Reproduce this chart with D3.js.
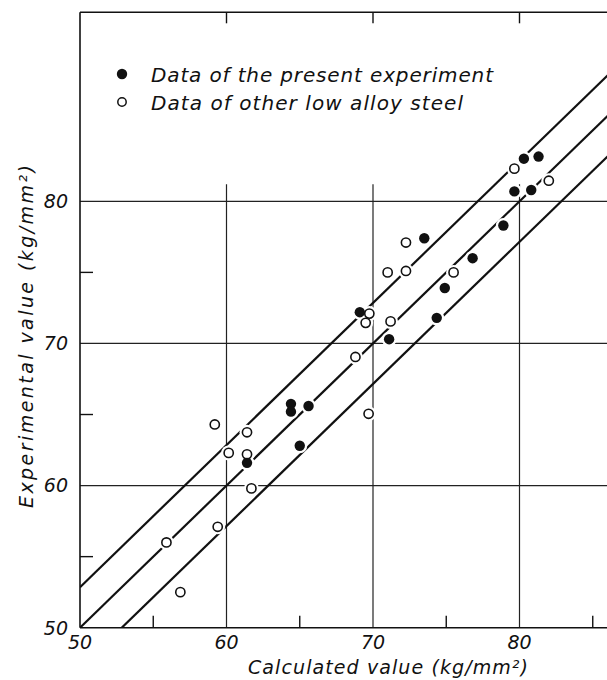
<!DOCTYPE html>
<html>
<head>
<meta charset="utf-8">
<script src="https://cdn.jsdelivr.net/npm/d3@7"></script>
<style>
  body { margin: 0; background: #fff; }
  svg text { font-family: "DejaVu Sans", sans-serif; font-style: italic; fill: #111; }
</style>
</head>
<body>
<svg id="chart" width="607" height="680"></svg>
<script>
// data (kg/mm2)
let presentCalc = [61.4, 65.0, 64.4, 64.4, 65.6, 71.1, 69.1, 74.35, 74.9, 76.8, 73.5, 78.9, 79.65, 80.8, 80.3, 81.3];
let presentExp  = [61.6, 62.8, 65.75, 65.2, 65.6, 70.3, 72.2, 71.8, 73.9, 76.0, 77.4, 78.3, 80.7, 80.8, 83.0, 83.15];

let otherCalc = [56.85, 55.9, 59.4, 61.7, 60.15, 61.4, 59.2, 61.4, 69.7, 68.8, 71.2, 69.75, 69.5, 75.5, 71.0, 72.25, 72.25, 82.0, 79.65];
let otherExp  = [52.5, 56.0, 57.1, 59.8, 62.3, 63.75, 64.3, 62.2, 65.05, 69.05, 71.55, 72.1, 71.45, 75.0, 75.0, 75.1, 77.1, 81.45, 82.3];

// scatter band: y = x + offset
let bandOffsets = [-2.85, 0, 2.85];

let gridValues = [60, 70, 80];
let xMinorTicks = [55, 65, 75, 85];
let yMinorTicks = [55, 65, 75];
let xTickLabels = [50, 60, 70, 80];
let yTickLabels = [50, 60, 70, 80];

let legendLabels = ["Data of the present experiment", "Data of other low alloy steel"];

let svg = d3.select("#chart");

let x = d3.scaleLinear().domain([50, 90]).range([80, 666]);
let y = d3.scaleLinear().domain([50, 93.3]).range([627.7, 12.3]);

svg.append("clipPath").attr("id", "plotClip")
  .append("rect")
  .attr("x", x(50)).attr("y", y(93.3))
  .attr("width", x(90) - x(50)).attr("height", y(50) - y(93.3));

// grid lines
svg.selectAll("line.hgrid").data(gridValues).enter().append("line")
  .attr("class", "hgrid")
  .attr("x1", x(50)).attr("x2", x(90))
  .attr("y1", d => y(d)).attr("y2", d => y(d))
  .attr("stroke", "#222").attr("stroke-width", 1.2);

svg.selectAll("line.vgrid").data(gridValues).enter().append("line")
  .attr("class", "vgrid")
  .attr("x1", d => x(d)).attr("x2", d => x(d))
  .attr("y1", y(50)).attr("y2", y(81.2))
  .attr("stroke", "#222").attr("stroke-width", 1.2);

// inner ticks
svg.selectAll("line.bt").data(xMinorTicks).enter().append("line")
  .attr("x1", d => x(d)).attr("x2", d => x(d))
  .attr("y1", y(50)).attr("y2", y(50) - 12)
  .attr("stroke", "#111").attr("stroke-width", 1.4);

svg.selectAll("line.tt").data(gridValues).enter().append("line")
  .attr("x1", d => x(d)).attr("x2", d => x(d))
  .attr("y1", y(93.3)).attr("y2", y(93.3) + 11)
  .attr("stroke", "#111").attr("stroke-width", 1.4);

svg.selectAll("line.lt").data(yMinorTicks).enter().append("line")
  .attr("x1", x(50)).attr("x2", x(50) + 13)
  .attr("y1", d => y(d)).attr("y2", d => y(d))
  .attr("stroke", "#111").attr("stroke-width", 1.4);

// frame (left, bottom, top; right side is off the page)
let frame = [[50, 93.3, 50, 50], [50, 50, 90, 50], [50, 93.3, 90, 93.3]];
svg.selectAll("line.frame").data(frame).enter().append("line")
  .attr("x1", d => x(d[0])).attr("y1", d => y(d[1]))
  .attr("x2", d => x(d[2])).attr("y2", d => y(d[3]))
  .attr("stroke", "#111").attr("stroke-width", 1.6);

// band lines
let line = d3.line().x(d => x(d[0])).y(d => y(d[1]));
svg.append("g").attr("clip-path", "url(#plotClip)")
  .selectAll("path").data(bandOffsets).enter().append("path")
  .attr("d", o => line([[50, 50 + o], [90, 90 + o]]))
  .attr("fill", "none").attr("stroke", "#111").attr("stroke-width", 2.2);

let present = presentCalc.map((c, i) => [c, presentExp[i]]);
let other = otherCalc.map((c, i) => [c, otherExp[i]]);

// white halos break the lines around the points, like the original
svg.selectAll("circle.halo").data(present.concat(other)).enter().append("circle")
  .attr("cx", d => x(d[0])).attr("cy", d => y(d[1]))
  .attr("r", 7.5).attr("fill", "#fff");

svg.selectAll("circle.open").data(other).enter().append("circle")
  .attr("cx", d => x(d[0])).attr("cy", d => y(d[1]))
  .attr("r", 4.6).attr("fill", "#fff")
  .attr("stroke", "#111").attr("stroke-width", 1.6);

svg.selectAll("circle.filled").data(present).enter().append("circle")
  .attr("cx", d => x(d[0])).attr("cy", d => y(d[1]))
  .attr("r", 5.2).attr("fill", "#111");

// tick labels
svg.selectAll("text.xl").data(xTickLabels).enter().append("text")
  .attr("x", d => x(d)).attr("y", 649)
  .attr("text-anchor", "middle").attr("font-size", 19)
  .text(d => d);

svg.selectAll("text.yl").data(yTickLabels).enter().append("text")
  .attr("x", 68).attr("y", d => y(d)).attr("dy", "0.36em")
  .attr("text-anchor", "end").attr("font-size", 19)
  .text(d => d);

// axis titles
svg.append("text")
  .attr("x", 248).attr("y", 674)
  .attr("font-size", 19)
  .attr("textLength", 280).attr("lengthAdjust", "spacing")
  .text("Calculated value (kg/mm\u00b2)");

svg.append("text")
  .attr("transform", "translate(33,508) rotate(-90)")
  .attr("font-size", 19)
  .attr("textLength", 343).attr("lengthAdjust", "spacing")
  .text("Experimental value (kg/mm\u00b2)");

// legend
let legend = svg.append("g");
legend.append("circle").attr("cx", 122).attr("cy", 74).attr("r", 5.2).attr("fill", "#111");
legend.append("circle").attr("cx", 122).attr("cy", 102).attr("r", 4.2)
  .attr("fill", "#fff").attr("stroke", "#111").attr("stroke-width", 1.5);
legend.selectAll("text").data(legendLabels).enter().append("text")
  .attr("x", 151).attr("y", (d, i) => 82 + i * 28)
  .attr("font-size", 20)
  .attr("textLength", (d, i) => i === 0 ? 342 : 312).attr("lengthAdjust", "spacing")
  .text(d => d);
</script>
</body>
</html>
